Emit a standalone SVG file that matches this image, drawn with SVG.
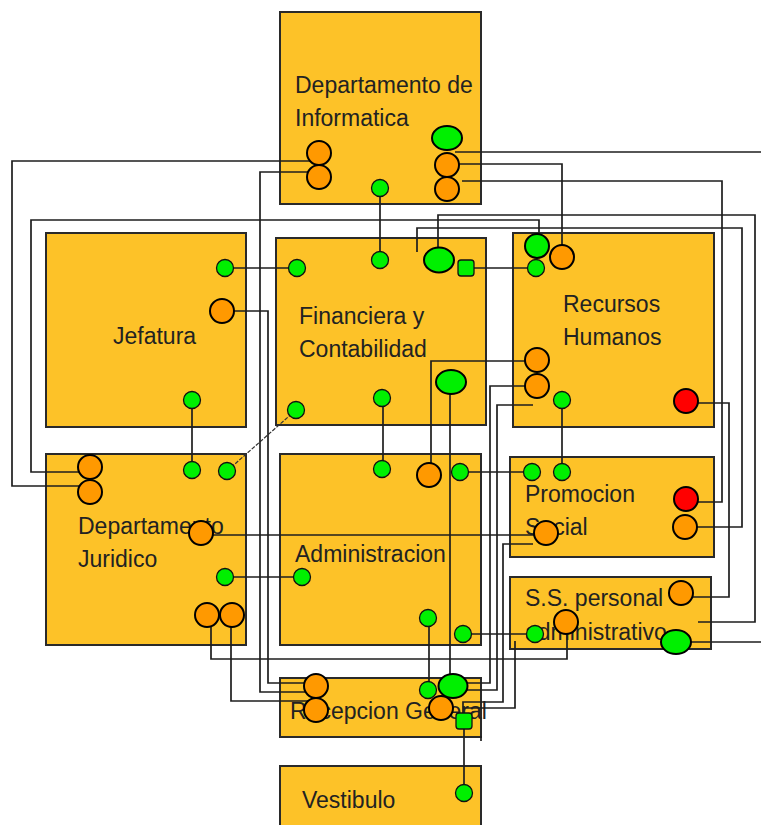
<svg xmlns="http://www.w3.org/2000/svg" width="761" height="825" viewBox="0 0 761 825">
<style>
.box{fill:#FDC228;stroke:#2a2a2a;stroke-width:2}
.lbl{font-family:"Liberation Sans",Arial,sans-serif;font-size:23px;fill:#222}
.cn{fill:none;stroke:#1e1e1e;stroke-width:1.7}
.dash{fill:none;stroke:#333;stroke-width:1.2;stroke-dasharray:4 1.5}
.sg{fill:#00F000;stroke:#111;stroke-width:1.3}
.or{fill:#FF9900;stroke:#000;stroke-width:2}
.bg{fill:#00F000;stroke:#000;stroke-width:2}
.rd{fill:#FF0000;stroke:#000;stroke-width:2}
</style>
<rect width="761" height="825" fill="#fff"/>
<g id="informatica"><rect class="box" x="280" y="12" width="201" height="192"/><text class="lbl" x="295" y="93">Departamento de</text><text class="lbl" x="295" y="126">Informatica</text></g>
<g id="jefatura"><rect class="box" x="46" y="233" width="200" height="194"/><text class="lbl" x="113" y="344">Jefatura</text></g>
<g id="financiera"><rect class="box" x="276" y="238" width="210" height="187"/><text class="lbl" x="299" y="324">Financiera y</text><text class="lbl" x="299" y="357">Contabilidad</text></g>
<g id="recursos"><rect class="box" x="513" y="233" width="201" height="194"/><text class="lbl" x="563" y="312">Recursos</text><text class="lbl" x="563" y="345">Humanos</text></g>
<g id="juridico"><rect class="box" x="46" y="454" width="200" height="191"/><text class="lbl" x="78" y="534">Departamento</text><text class="lbl" x="78" y="567">Juridico</text></g>
<g id="administracion"><rect class="box" x="280" y="454" width="201" height="191"/><text class="lbl" x="295" y="562">Administracion</text></g>
<g id="promocion"><rect class="box" x="510" y="457" width="204" height="100"/><text class="lbl" x="525" y="502">Promocion</text><text class="lbl" x="525" y="535">Social</text></g>
<g id="ss-personal"><rect class="box" x="510" y="577" width="201" height="72"/><text class="lbl" x="525" y="606">S.S. personal</text><text class="lbl" x="525" y="640">administrativo</text></g>
<g id="recepcion"><rect class="box" x="280" y="678" width="201" height="59"/><text class="lbl" x="290" y="719">Recepcion General</text></g>
<g id="vestibulo"><rect class="box" x="280" y="766" width="201" height="70"/><text class="lbl" x="302" y="808">Vestibulo</text></g>
<g id="connectors">
<path class="cn" d="M380,188V260"/>
<path class="cn" d="M225,268H297"/>
<path class="cn" d="M192,400V471"/>
<path class="dash" d="M227,471L296,410"/>
<path class="cn" d="M383,398V469"/>
<path class="cn" d="M225,577H302"/>
<path class="cn" d="M460,472H532"/>
<path class="cn" d="M562,400V472"/>
<path class="cn" d="M466,268H536"/>
<path class="cn" d="M463,634H535"/>
<path class="cn" d="M429,618V690"/>
<path class="cn" d="M464,721V793"/>
<path class="cn" d="M450,382V686"/>
<path class="cn" d="M537,361H431V475"/>
<path class="cn" d="M537,386H490V683H460"/>
<path class="cn" d="M533,405H497V690H460"/>
<path class="cn" d="M533,544H503V702H463V721"/>
<path class="cn" d="M515,641V708H463"/>
<path class="cn" d="M481,736V741"/>
<path class="cn" d="M319,161H12V486H90"/>
<path class="cn" d="M319,172H260V692H316"/>
<path class="cn" d="M222,311H268V683H316"/>
<path class="cn" d="M90,472H31V220H539V246"/>
<path class="cn" d="M211,615V659H567V622"/>
<path class="cn" d="M231,615V701H316"/>
<path class="cn" d="M201,535H546"/>
<path class="cn" d="M455,152H761"/>
<path class="cn" d="M447,164H562V257"/>
<path class="cn" d="M462,181H722V502H686"/>
<path class="cn" d="M686,403H729V597H681"/>
<path class="cn" d="M417,252V228H742V527H685"/>
<path class="cn" d="M438,260V215H755V622H698"/>
<path class="cn" d="M676,642H761"/>
</g>
<g id="ports-informatica">
<circle class="or" cx="319" cy="153" r="12"/><circle class="or" cx="319" cy="177" r="12"/>
<ellipse class="bg" cx="447" cy="138" rx="15" ry="12"/>
<circle class="or" cx="447" cy="165" r="12"/><circle class="or" cx="447" cy="189" r="12"/>
<circle class="sg" cx="380" cy="188" r="8.5"/>
</g>
<g id="ports-jefatura">
<circle class="sg" cx="225" cy="268" r="8.5"/><circle class="or" cx="222" cy="311" r="12"/><circle class="sg" cx="192" cy="400" r="8.5"/>
</g>
<g id="ports-financiera">
<circle class="sg" cx="297" cy="268" r="8.5"/><circle class="sg" cx="380" cy="260" r="8.5"/>
<ellipse class="bg" cx="439" cy="260" rx="15" ry="12.5"/>
<rect class="sg" x="458" y="260" width="16" height="16" rx="3"/>
<ellipse class="bg" cx="451" cy="382" rx="15" ry="12"/>
<circle class="sg" cx="382" cy="398" r="8.5"/><circle class="sg" cx="296" cy="410" r="8.5"/>
</g>
<g id="ports-recursos">
<circle class="bg" cx="537" cy="246" r="12"/><circle class="or" cx="562" cy="257" r="12"/>
<circle class="sg" cx="536" cy="268" r="8.5"/>
<circle class="or" cx="537" cy="360" r="12"/><circle class="or" cx="537" cy="386" r="12"/>
<circle class="sg" cx="562" cy="400" r="8.5"/><circle class="rd" cx="686" cy="401" r="12"/>
</g>
<g id="ports-juridico">
<circle class="or" cx="90" cy="467" r="12"/><circle class="or" cx="90" cy="492" r="12"/>
<circle class="sg" cx="192" cy="470" r="8.5"/><circle class="sg" cx="227" cy="471" r="8.5"/>
<circle class="or" cx="201" cy="533" r="12"/><circle class="sg" cx="225" cy="577" r="8.5"/>
<circle class="or" cx="207" cy="615" r="12"/><circle class="or" cx="232" cy="615" r="12"/>
</g>
<g id="ports-administracion">
<circle class="sg" cx="382" cy="469" r="8.5"/><circle class="or" cx="429" cy="475" r="12"/>
<circle class="sg" cx="460" cy="472" r="8.5"/><circle class="sg" cx="302" cy="577" r="8.5"/>
<circle class="sg" cx="428" cy="618" r="8.5"/><circle class="sg" cx="463" cy="634" r="8.5"/>
</g>
<g id="ports-promocion">
<circle class="sg" cx="532" cy="472" r="8.5"/><circle class="sg" cx="562" cy="472" r="8.5"/>
<circle class="rd" cx="686" cy="499" r="12"/><circle class="or" cx="685" cy="527" r="12"/>
<circle class="or" cx="546" cy="533" r="12"/>
</g>
<g id="ports-ss">
<circle class="or" cx="681" cy="593" r="12"/><circle class="or" cx="566" cy="622" r="12"/>
<circle class="sg" cx="535" cy="634" r="8.5"/>
<ellipse class="bg" cx="676" cy="642" rx="15" ry="12"/>
</g>
<g id="ports-recepcion">
<circle class="or" cx="316" cy="686" r="12"/><circle class="or" cx="316" cy="710" r="12"/>
<circle class="sg" cx="428" cy="690" r="8.5"/>
<ellipse class="bg" cx="453" cy="686" rx="14.5" ry="12"/>
<circle class="or" cx="441" cy="708" r="12"/>
<rect class="sg" x="456" y="713" width="16" height="16" rx="3"/>
</g>
<g id="ports-vestibulo">
<circle class="sg" cx="464" cy="793" r="8.5"/>
</g>
</svg>
